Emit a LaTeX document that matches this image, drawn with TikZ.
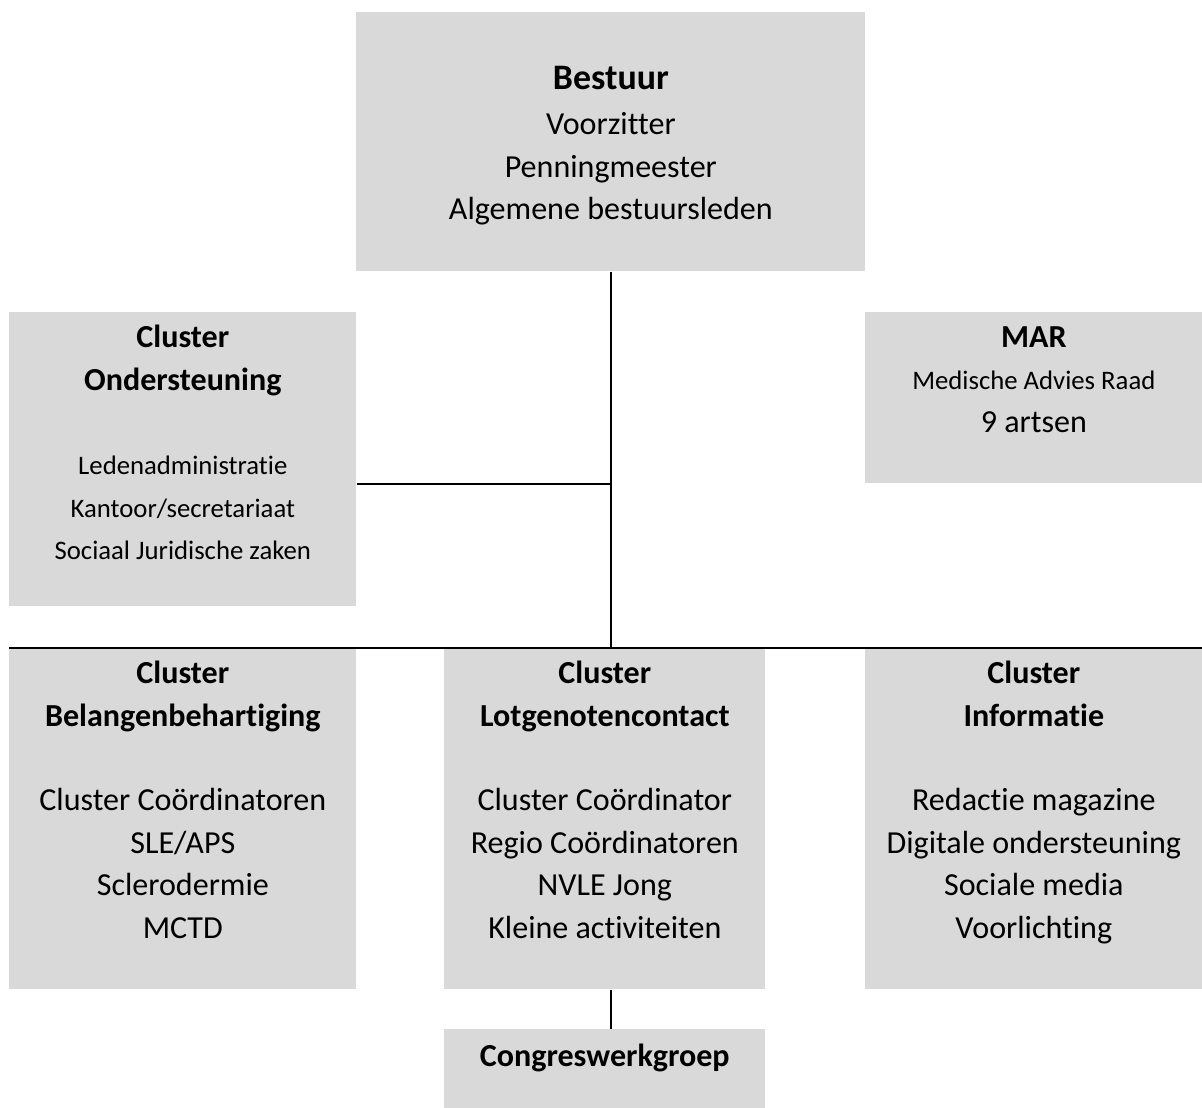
\documentclass[tikz,border=0pt]{standalone}
\usepackage{fontspec}
\setmainfont{Carlito}[Ligatures={NoCommon,NoContextual,NoRequired},Contextuals=NoAlternate]
\usepackage{xcolor}
\usetikzlibrary{positioning,calc}
\definecolor{boxgray}{HTML}{D9D9D9}
\newcommand{\grootfont}{\fontsize{22.8}{30.2}\selectfont}
\newcommand{\kleinfont}{\fontsize{19}{30.2}\selectfont}
\newcommand{\kopfont}{\fontsize{25.5}{30.2}\selectfont}
\tikzset{
  box/.style={fill=boxgray, draw=none, anchor=north west, inner sep=0pt},
  txt/.style={anchor=north, align=center, inner sep=0pt, font=\grootfont},
  lijn/.style={line width=1.3pt}
}

\begin{document}
\begin{tikzpicture}[x=0.025cm, y=-0.025cm]
    \useasboundingbox (0,0) rectangle (1202,1108);

    \node[box, minimum width=12.725cm, minimum height=6.475cm] (bestuur) at (356,12) {};
    \node[box, minimum width=8.675cm, minimum height=7.35cm] (onderst) at (9,312) {};
    \node[box, minimum width=8.425cm, minimum height=4.275cm] (mar) at (865,312) {};
    \node[box, minimum width=8.675cm, minimum height=8.525cm] (belang) at (9,648) {};
    \node[box, minimum width=8.025cm, minimum height=8.525cm] (lotgen) at (444,648) {};
    \node[box, minimum width=8.425cm, minimum height=8.525cm] (info) at (865,648) {};
    \node[box, minimum width=8.025cm, minimum height=1.975cm] (congres) at (444,1029) {};

    \node[txt] (t-bestuur) at ([yshift=-1.35cm]bestuur.north)
        {{\kopfont\bfseries Bestuur}\\[2pt]Voorzitter\\Penningmeester\\Algemene bestuursleden};
    \node[txt] (t-onderst) at ([yshift=-0.325cm]onderst.north)
        {{\bfseries Cluster}\\{\bfseries Ondersteuning}\\[30pt]{\kleinfont Ledenadministratie}\\{\kleinfont Kantoor/secretariaat}\\{\kleinfont Sociaal Juridische zaken}};
    \node[txt] (t-mar) at ([yshift=-0.35cm]mar.north)
        {{\bfseries MAR}\\{\kleinfont Medische Advies Raad}\\9 artsen};
    \node[txt] (t-belang) at ([yshift=-0.325cm]belang.north)
        {{\bfseries Cluster}\\{\bfseries Belangenbehartiging}\\[30pt]Cluster Coördinatoren\\SLE/APS\\Sclerodermie\\MCTD};
    \node[txt] (t-lotgen) at ([yshift=-0.325cm]lotgen.north)
        {{\bfseries Cluster}\\{\bfseries Lotgenotencontact}\\[30pt]Cluster Coördinator\\Regio Coördinatoren\\NVLE Jong\\Kleine activiteiten};
    \node[txt] (t-info) at ([yshift=-0.325cm]info.north)
        {{\bfseries Cluster}\\{\bfseries Informatie}\\[30pt]Redactie magazine\\Digitale ondersteuning\\Sociale media\\Voorlichting};
    \node[txt] (t-congres) at ([yshift=-0.375cm]congres.north)
        {{\bfseries Congreswerkgroep}};

    \draw[lijn] (bestuur.south) -- (bestuur.south |- lotgen.north);
    \draw[lijn] (onderst.east |- mar.south) -- (bestuur.south |- mar.south);
    \draw[lijn] (belang.north west) -- (info.north east);
    \draw[lijn] (bestuur.south |- lotgen.south) -- (bestuur.south |- congres.north);
\end{tikzpicture}
\end{document}
